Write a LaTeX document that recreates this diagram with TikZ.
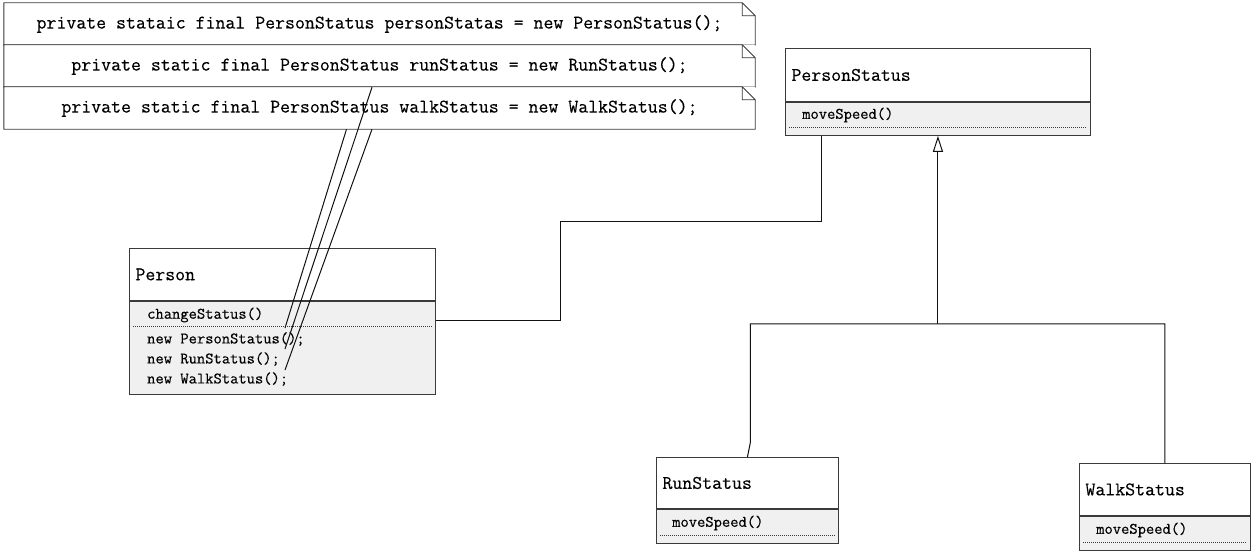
\documentclass[tikz,border=0pt]{standalone}
\usepackage{fontspec}
\newfontfamily\umltt{Latin Modern Mono}[FakeBold=0.3]
\definecolor{umlInk}{HTML}{3A3A3A}
\definecolor{umlWire}{HTML}{111111}
\definecolor{umlBody}{HTML}{F0F0F0}
\usetikzlibrary{arrows.meta,calc}

\begin{document}
\begin{tikzpicture}[x=1pt,y=-1pt,
  bigtt/.style={font=\umltt\fontsize{19.3pt}{21pt}\selectfont},
  optt/.style={font=\umltt\fontsize{16.1pt}{18pt}\selectfont},
  note/.style={bigtt,fill=white,minimum width=751pt,minimum height=42pt,inner sep=0pt},
  noteline/.style={draw=umlInk,line width=0.9pt},
  clsname/.style={bigtt,draw=umlInk,line width=0.9pt,fill=white,anchor=north west,
                  inner xsep=6pt,inner ysep=0pt,align=left},
  clsbody/.style={draw=umlInk,line width=0.9pt,fill=umlBody,anchor=north west,inner sep=0pt},
  op/.style={optt,anchor=west,inner sep=0pt},
  sep/.style={umlInk,line width=0.9pt,dash pattern=on 1pt off 1pt},
  conn/.style={umlWire,line width=1pt}]
\useasboundingbox (0,0) rectangle (1254,551);
% classes
\node[clsname,text width=294pt,minimum height=52pt] (person) at (129,248) {Person};
\node[clsbody,minimum width=306pt,minimum height=93pt] (personOps) at (person.south west) {};
\node[op] (chgStatus) at (147,315) {changeStatus()};
\node[op] (newPS) at (147,339) {new PersonStatus();};
\node[op] (newRS) at (147,359) {new RunStatus();};
\node[op] (newWS) at (147,379) {new WalkStatus();};
\draw[sep] ([xshift=4pt,yshift=-26pt]personOps.north west) -- ([xshift=-4pt,yshift=-26pt]personOps.north east);

\node[clsname,text width=293pt,minimum height=53pt] (pStatus) at (785,48) {PersonStatus};
\node[clsbody,minimum width=305pt,minimum height=33pt] (pStatusOps) at (pStatus.south west) {};
\node[op] (psMove) at (802,115) {moveSpeed()};
\draw[sep] ([xshift=4pt,yshift=-26pt]pStatusOps.north west) -- ([xshift=-4pt,yshift=-26pt]pStatusOps.north east);

\node[clsname,text width=170pt,minimum height=51pt] (runSt) at (656,457) {RunStatus};
\node[clsbody,minimum width=182pt,minimum height=34pt] (runStOps) at (runSt.south west) {};
\node[op] (rsMove) at (672,523) {moveSpeed()};
\draw[sep] ([xshift=4pt,yshift=-27pt]runStOps.north west) -- ([xshift=-4pt,yshift=-27pt]runStOps.north east);

\node[clsname,text width=159pt,minimum height=52pt] (walkSt) at (1079,463) {WalkStatus};
\node[clsbody,minimum width=171pt,minimum height=34pt] (walkStOps) at (walkSt.south west) {};
\node[op] (wsMove) at (1096,530) {moveSpeed()};
\draw[sep] ([xshift=4pt,yshift=-27pt]walkStOps.north west) -- ([xshift=-4pt,yshift=-27pt]walkStOps.north east);

% association and generalization
\draw[conn] ([yshift=-20pt]personOps.north east) -| (560,221) -| ([xshift=36pt]pStatusOps.south west);
\path (pStatusOps.south) ++(0,188) coordinate (hub);
\draw[conn,-{Triangle[open,width=10pt,length=16pt]}] (hub) -- (pStatusOps.south);
\draw[conn] (runSt.north) -- ++(3,-15) |- (hub) -| (walkSt.north);

% notes, above
\coordinate (useA) at (285,328);
\coordinate (useB) at (285,349);
\coordinate (useC) at (285,370);
\node[note] (noteA) at (379.5,24) {private stataic final PersonStatus personStatas = new PersonStatus();};
\draw[noteline] ([xshift=-13pt]noteA.north east) -- (noteA.north west) -- (noteA.south west) -- (noteA.south east)
  -- ([yshift=-13pt]noteA.north east) -- cycle ([xshift=-13pt]noteA.north east) |- ([yshift=-13pt]noteA.north east);
\draw[conn] ([xshift=-7pt]noteA.south) -- (useA);
\node[note] (noteB) at (379.5,66) {private static final PersonStatus runStatus = new RunStatus();};
\draw[noteline] ([xshift=-13pt]noteB.north east) -- (noteB.north west) -- (noteB.south west) -- (noteB.south east)
  -- ([yshift=-13pt]noteB.north east) -- cycle ([xshift=-13pt]noteB.north east) |- ([yshift=-13pt]noteB.north east);
\node[note] (noteC) at (379.5,108) {private static final PersonStatus walkStatus = new WalkStatus();};
\draw[noteline] ([xshift=-13pt]noteC.north east) -- (noteC.north west) -- (noteC.south west) -- (noteC.south east)
  -- ([yshift=-13pt]noteC.north east) -- cycle ([xshift=-13pt]noteC.north east) |- ([yshift=-13pt]noteC.north east);
\draw[conn] ([xshift=-7.5pt]noteB.south) -- (useB);
\draw[conn] ([xshift=-7.5pt]noteC.south) -- (useC);
\end{tikzpicture}
\end{document}
